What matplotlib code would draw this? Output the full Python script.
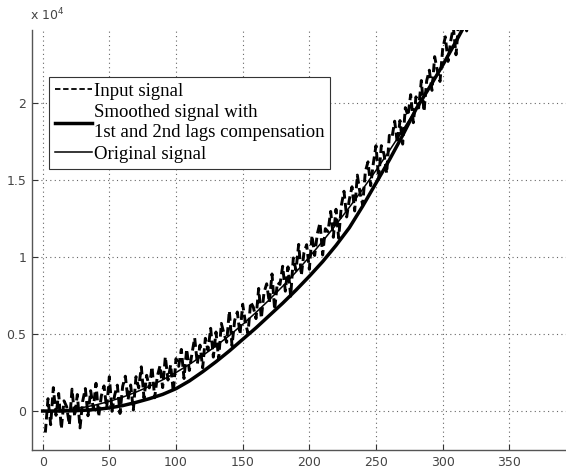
import matplotlib.pyplot as plt
import numpy as np

# input (noisy) signal
x_in = list(range(2, 323, 2))
y_in = [-1400, 800, -890, 1520, -280, 1140, -1150, 660, 280, -900,
        1420, -360, 1070, -1100, 630, 1460, -310, 1320, 160, 1800,
        -360, 980, 1630, 180, 2230, -20, 1030, 1680, -160, 1600,
        2260, 720, 1690, 60, 2230, 1500, 2870, 840, 2320, 1500,
        2880, 860, 2250, 2940, 1520, 3520, 2010, 3000, 1200, 3400,
        2900, 4000, 2110, 4020, 2630, 3740, 4750, 3060, 4280, 2800,
        4720, 3940, 5370, 3500, 5130, 3360, 5690, 5020, 4460, 6500,
        4240, 5880, 6430, 4980, 6930, 5780, 5030, 7080, 6740, 6000,
        7960, 6020, 7690, 8260, 7030, 8900, 6570, 8340, 8220, 9400,
        7780, 9360, 7450, 9940, 9130, 10820, 8810, 10300, 10800, 9200,
        11400, 10100, 11510, 12220, 10130, 11840, 11650, 12960, 11280, 13100,
        11220, 13340, 14270, 12600, 13730, 14560, 12990, 15320, 14160, 13400,
        15540, 16180, 14630, 16080, 17230, 15080, 17230, 16680, 15440, 17900,
        17760, 18820, 17390, 18860, 17330, 19700, 19170, 20540, 18720, 20400,
        19680, 21460, 19450, 21440, 22130, 20820, 23010, 22100, 21400, 23500,
        24300, 22700, 24010, 24920, 23130, 25240, 24950, 26260, 24680, 26400,
        24820]

x_s = list(range(0, 321, 10))
# smoothed signal (thick)
y_smooth = [0, 0, 10, 40, 100, 200, 350, 560, 800, 1080,
            1450, 1950, 2550, 3200, 3900, 4650, 5400, 6200, 7000, 7850,
            8750, 9700, 10750, 11900, 13300, 14800, 16300, 17900, 19600, 21000,
            22450, 24000, 25600]
# original signal (thin)
y_orig = [0, 25, 100, 225, 400, 625, 900, 1225, 1600, 2025,
          2500, 3025, 3600, 4225, 4900, 5625, 6400, 7225, 8100, 9025,
          10000, 11025, 12100, 13225, 14400, 15625, 16900, 18225, 19600, 21025,
          22500, 24025, 25600]

labels = ['Input signal',
          'Smoothed signal with\n1st and 2nd lags compensation',
          'Original signal']

fig = plt.figure(figsize=(5.66, 4.68), dpi=100)
ax = fig.add_axes([32/566, 18/468, 534/566, 420/468])

ax.plot(x_in, y_in, color='black', lw=2.1, ls=(0, (3, 1.5)), label=labels[0])
ax.plot(x_s, y_smooth, color='black', lw=2.5, label=labels[1])
ax.plot(x_s, y_orig, color='black', lw=1.1, label=labels[2])

ax.set_xlim(-8, 392.5)
ax.set_ylim(-2532, 24740)
ax.set_xticks(np.arange(0, 351, 50))
ax.set_yticks([0, 5000, 10000, 15000, 20000])
ax.set_yticklabels(['0', '0.5', '1', '1.5', '2'])

for s in ['top', 'right']:
    ax.spines[s].set_visible(False)
for s in ['left', 'bottom']:
    ax.spines[s].set_color('#555555')
    ax.spines[s].set_linewidth(1.0)
ax.tick_params(direction='in', length=4, color='#333333', labelsize=9,
               labelcolor='#444444', pad=4)
ax.grid(True, ls=(0, (1, 3)), color='#666666', lw=0.8)

fig.text(30/566, 1 - 20/468, r'x 10$^4$', fontsize=9, color='#444444',
         va='baseline')

leg = ax.legend(loc='upper left', bbox_to_anchor=(0.032, 0.888),
                borderaxespad=0, fancybox=False, framealpha=1,
                edgecolor='#333333', handlelength=2.0, handletextpad=0.1,
                labelspacing=0.25, borderpad=0.3,
                prop={'family': 'Liberation Serif', 'size': 13.5})
leg.get_frame().set_linewidth(0.8)
leg.get_lines()[0].set_linewidth(1.3)

fig.savefig('out.png', dpi=100)
